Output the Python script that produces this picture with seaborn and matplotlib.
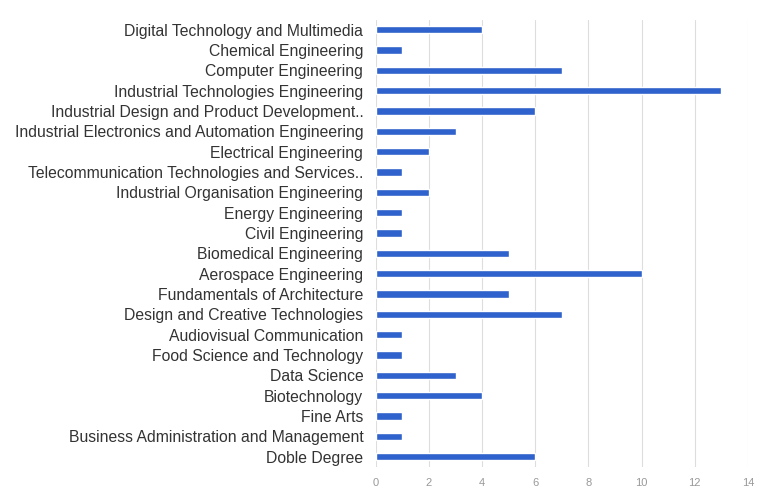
import matplotlib
matplotlib.use("Agg")
import matplotlib.pyplot as plt
import seaborn as sns
import pandas as pd

categories = [
    "Digital Technology and Multimedia",
    "Chemical Engineering",
    "Computer Engineering",
    "Industrial Technologies Engineering",
    "Industrial Design and Product Development..",
    "Industrial Electronics and Automation Engineering",
    "Electrical Engineering",
    "Telecommunication Technologies and Services..",
    "Industrial Organisation Engineering",
    "Energy Engineering",
    "Civil Engineering",
    "Biomedical Engineering",
    "Aerospace Engineering",
    "Fundamentals of Architecture",
    "Design and Creative Technologies",
    "Audiovisual Communication",
    "Food Science and Technology",
    "Data Science",
    "Biotechnology",
    "Fine Arts",
    "Business Administration and Management",
    "Doble Degree",
]
values = [4, 1, 7, 13, 6, 3, 2, 1, 2, 1, 1, 5, 10, 5, 7, 1, 1, 3, 4, 1, 1, 6]
xticks = [0, 2, 4, 6, 8, 10, 12, 14]

df = pd.DataFrame({"category": categories, "value": values})

sns.set_style("white")
plt.rcParams['font.family'] = ['Liberation Sans', 'DejaVu Sans']

fig = plt.figure(figsize=(7.67, 4.9), dpi=100)
ax = fig.add_axes([0.49, 0.047, 0.485, 0.913])

sns.barplot(data=df, x="value", y="category", orient="h", color="#2f62cc",
            width=0.36, ax=ax, saturation=1)

ax.set_xlim(0, 14)
ax.set_xticks(xticks)
ax.set_xticklabels([str(t) for t in xticks], fontsize=8, color="#999999")
ax.tick_params(axis="y", labelsize=11.3, labelcolor="#333333", length=0, pad=9)
ax.tick_params(axis="x", length=0, pad=8)
ax.set_xlabel("")
ax.set_ylabel("")
ax.xaxis.grid(True, color="#dddddd", linewidth=0.8)
ax.set_axisbelow(True)
for s in ax.spines.values():
    s.set_visible(False)

fig.savefig("out.png", dpi=100)
